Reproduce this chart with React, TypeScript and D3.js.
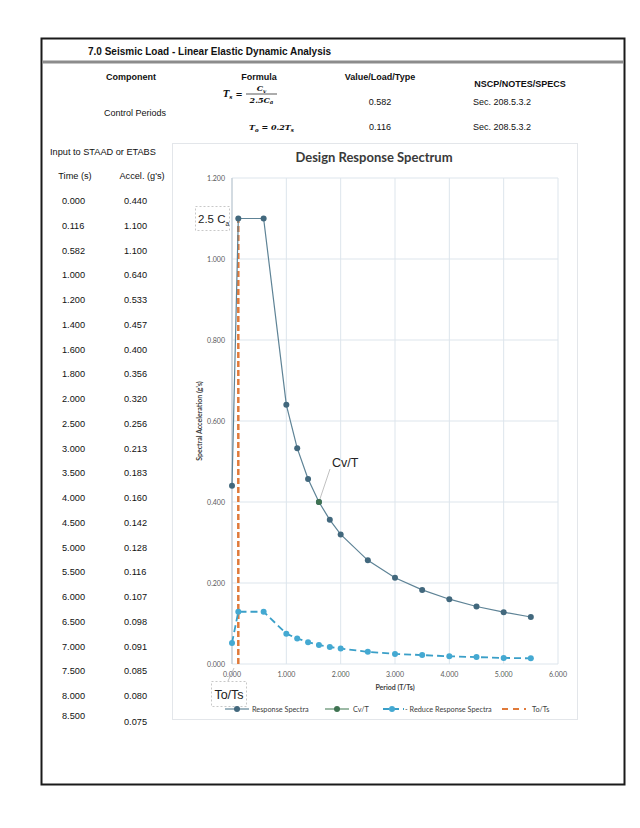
import React from "react";
import * as d3 from "d3";

const times = [0, 0.116, 0.582, 1.0, 1.2, 1.4, 1.6, 1.8, 2.0, 2.5, 3.0, 3.5, 4.0, 4.5, 5.0, 5.5, 6.0, 6.5, 7.0, 7.5, 8.0, 8.5];
const accels = [0.44, 1.1, 1.1, 0.64, 0.533, 0.457, 0.4, 0.356, 0.32, 0.256, 0.213, 0.183, 0.16, 0.142, 0.128, 0.116, 0.107, 0.098, 0.091, 0.085, 0.08, 0.075];
const chartCount = 16;
const reduced = [0.052, 0.129, 0.129, 0.075, 0.063, 0.054, 0.047, 0.042, 0.038, 0.030, 0.025, 0.022, 0.019, 0.017, 0.015, 0.014];
const cvT = [{ t: 1.6, a: 0.4 }];
const toTs = [{ t: 0.116, a: 0 }, { t: 0.116, a: 1.1 }];
const xTicks = [0, 1, 2, 3, 4, 5, 6];
const yTicks = [0, 0.2, 0.4, 0.6, 0.8, 1.0, 1.2];
const Ts = 0.582;
const To = 0.116;

const SANS = "'Liberation Sans', Arial, sans-serif";
const CH = "Lato, 'Open Sans', sans-serif";

export default function App() {
  const x = d3.scaleLinear().domain([0, 6]).range([232, 558]);
  const y = d3.scaleLinear().domain([0, 1.2]).range([664, 178]);
  const fmt = d3.format(".3f");

  const specPts = times.slice(0, chartCount).map((t, i) => ({ t, a: accels[i] }));
  const redPts = times.slice(0, chartCount).map((t, i) => ({ t, a: reduced[i] }));
  const line = d3.line<{ t: number; a: number }>().x(d => x(d.t)).y(d => y(d.a));

  const rowY = (i: number) => 201 + i * 24.75;

  return (
    <svg width={640} height={828} style={{ position: "absolute", left: 0, top: 0, background: "#fff" }}>
      <rect x={0} y={0} width={640} height={828} fill="#fff" />
      {/* page border */}
      <rect x={41.5} y={38.5} width={583} height={746} fill="none" stroke="#1a1a1a" strokeWidth={2} />
      <line x1={42} x2={624} y1={62} y2={62} stroke="#8c8c8c" strokeWidth={3} />
      <text x={88} y={55} fontFamily={SANS} fontSize={10} fontWeight="bold" fill="#111">7.0 Seismic Load - Linear Elastic Dynamic Analysis</text>

      {/* header table */}
      <g fontFamily={SANS} fontSize={9} fill="#111" textAnchor="middle">
        <text x={131} y={80} fontWeight="bold">Component</text>
        <text x={259} y={80} fontWeight="bold">Formula</text>
        <text x={380} y={80} fontWeight="bold">Value/Load/Type</text>
        <text x={520} y={87} fontWeight="bold">NSCP/NOTES/SPECS</text>
        <text x={135} y={116}>Control Periods</text>
        <text x={380} y={105}>{fmt(Ts)}</text>
        <text x={380} y={130}>{fmt(To)}</text>
      </g>
      <g fontFamily={SANS} fontSize={9} fill="#111">
        <text x={473} y={105}>Sec. 208.5.3.2</text>
        <text x={473} y={130}>Sec. 208.5.3.2</text>
      </g>
      {/* formulas */}
      <g fontFamily="'DejaVu Serif', serif" fontStyle="italic" fontWeight="bold" fill="#111">
        <text x={223} y={97} fontSize={8.5}>T<tspan fontSize={5.5} dy={1.5}>s</tspan><tspan dy={-1.5}> =</tspan></text>
        <line x1={246} x2={277} y1={94} y2={94} stroke="#111" strokeWidth={0.7} />
        <text x={261.5} y={91} fontSize={8} textAnchor="middle">C<tspan fontSize={5.5} dy={1.5}>v</tspan></text>
        <text x={261.5} y={102.5} fontSize={8} textAnchor="middle">2.5C<tspan fontSize={5.5} dy={1.5}>a</tspan></text>
        <text x={249} y={130} fontSize={8}>T<tspan fontSize={5.5} dy={1.5}>o</tspan><tspan dy={-1.5}> = 0.2T</tspan><tspan fontSize={5.5} dy={1.5}>s</tspan></text>
      </g>

      {/* left input table */}
      <g fontFamily={SANS} fontSize={9.2} fill="#111">
        <text x={50} y={155}>Input to STAAD or ETABS</text>
        <text x={75} y={179} textAnchor="middle">Time (s)</text>
        <text x={142} y={179} textAnchor="middle">Accel. (g's)</text>
        {times.map((t, i) => {
          const last = i === times.length - 1;
          return (
            <g key={i}>
              <text x={62} y={(last ? 716 : rowY(i)) + 3}>{fmt(t)}</text>
              <text x={124} y={(last ? 722 : rowY(i)) + 3}>{fmt(accels[i])}</text>
            </g>
          );
        })}
      </g>

      {/* chart frame */}
      <rect x={172.5} y={143.5} width={405} height={576} fill="#fff" stroke="#e3e6ea" strokeWidth={1} />
      <text x={374} y={162} textAnchor="middle" fontFamily={CH} fontSize={13} fontWeight="bold" fill="#3a3a3a">Design Response Spectrum</text>

      {/* grid */}
      <g stroke="#dde5ec" strokeWidth={1}>
        {xTicks.map(t => (
          <line key={"gx" + t} x1={x(t)} x2={x(t)} y1={y(1.2)} y2={y(0)} />
        ))}
        {yTicks.map(t => (
          <line key={"gy" + t} x1={x(0)} x2={x(6)} y1={y(t)} y2={y(t)} />
        ))}
      </g>
      <line x1={x(0)} x2={x(0)} y1={y(1.2)} y2={y(0)} stroke="#b8c4ce" strokeWidth={1} />
      <g fontFamily={CH} fontSize={7} fill="#595959">
        {yTicks.map(t => (
          <text key={"ty" + t} x={225} y={y(t) + 2.5} textAnchor="end">{fmt(t)}</text>
        ))}
        {xTicks.map(t => (
          <text key={"tx" + t} x={x(t)} y={677} textAnchor="middle">{fmt(t)}</text>
        ))}
      </g>
      <text x={395} y={690} textAnchor="middle" fontFamily={CH} fontSize={7} fontWeight="bold" fill="#404040">Period (T/Ts)</text>
      <text transform={`translate(202,${y(0.6)}) rotate(-90)`} textAnchor="middle" fontFamily={CH} fontSize={7} fontWeight="bold" fill="#404040">Spectral Acceleration (g's)</text>

      {/* To/Ts line */}
      <path d={line(toTs) || ""} fill="none" stroke="#e07a3a" strokeWidth={2.5} strokeDasharray="6,3" />

      {/* reduced spectra */}
      <path d={line(redPts) || ""} fill="none" stroke="#3a9fc8" strokeWidth={1.8} strokeDasharray="7,4" />
      {redPts.map((d, i) => (
        <circle key={"r" + i} cx={x(d.t)} cy={y(d.a)} r={3} fill="#44a9d2" />
      ))}

      {/* response spectra */}
      <path d={line(specPts) || ""} fill="none" stroke="#5e8396" strokeWidth={1.2} />
      {specPts.map((d, i) => (
        <circle key={"s" + i} cx={x(d.t)} cy={y(d.a)} r={3} fill="#42687d" />
      ))}
      {cvT.map((d, i) => (
        <circle key={"c" + i} cx={x(d.t)} cy={y(d.a)} r={3} fill="#3f7352" />
      ))}

      {/* annotations */}
      <rect x={195.5} y={206.5} width={34} height={24} fill="#fff" stroke="#c8c8c8" strokeDasharray="2,2" />
      <text x={198} y={222.5} fontFamily={SANS} fontSize={11.5} fill="#222">2.5 C<tspan fontSize={6.5} dy={3}>a</tspan></text>
      <line x1={x(1.6) + 1} y1={y(0.4) - 3} x2={330} y2={469} stroke="#b0b0b0" strokeWidth={0.8} />
      <text x={332} y={467} fontFamily={SANS} fontSize={12.5} fill="#222">Cv/T</text>
      <line x1={228} y1={681} x2={x(0) + 2} y2={y(0) + 4} stroke="#b0b0b0" strokeWidth={0.8} />
      <rect x={211.5} y={681.5} width={35} height={25} fill="#fff" stroke="#c8c8c8" strokeDasharray="2,2" />
      <text x={229} y={699} textAnchor="middle" fontFamily={SANS} fontSize={12.5} fill="#222">To/Ts</text>

      {/* legend */}
      <g fontFamily={CH} fontSize={7.3} fill="#404040">
        <line x1={225} x2={249} y1={709} y2={709} stroke="#5e8396" strokeWidth={1.2} />
        <circle cx={237} cy={709} r={3} fill="#42687d" />
        <text x={252} y={711.5}>Response Spectra</text>
        <line x1={325} x2={349} y1={709} y2={709} stroke="#5c8c6a" strokeWidth={1.2} />
        <circle cx={337} cy={709} r={3} fill="#3f7352" />
        <text x={353} y={711.5}>Cv/T</text>
        <line x1={383} x2={404} y1={709} y2={709} stroke="#3a9fc8" strokeWidth={1.8} strokeDasharray="6,4" />
        <circle cx={392} cy={709} r={3} fill="#44a9d2" />
        <text x={405} y={711.5}>- Reduce Response Spectra</text>
        <line x1={502} x2={526} y1={709} y2={709} stroke="#e07a3a" strokeWidth={2} strokeDasharray="6,5" />
        <text x={532} y={711.5}>To/Ts</text>
      </g>
    </svg>
  );
}
